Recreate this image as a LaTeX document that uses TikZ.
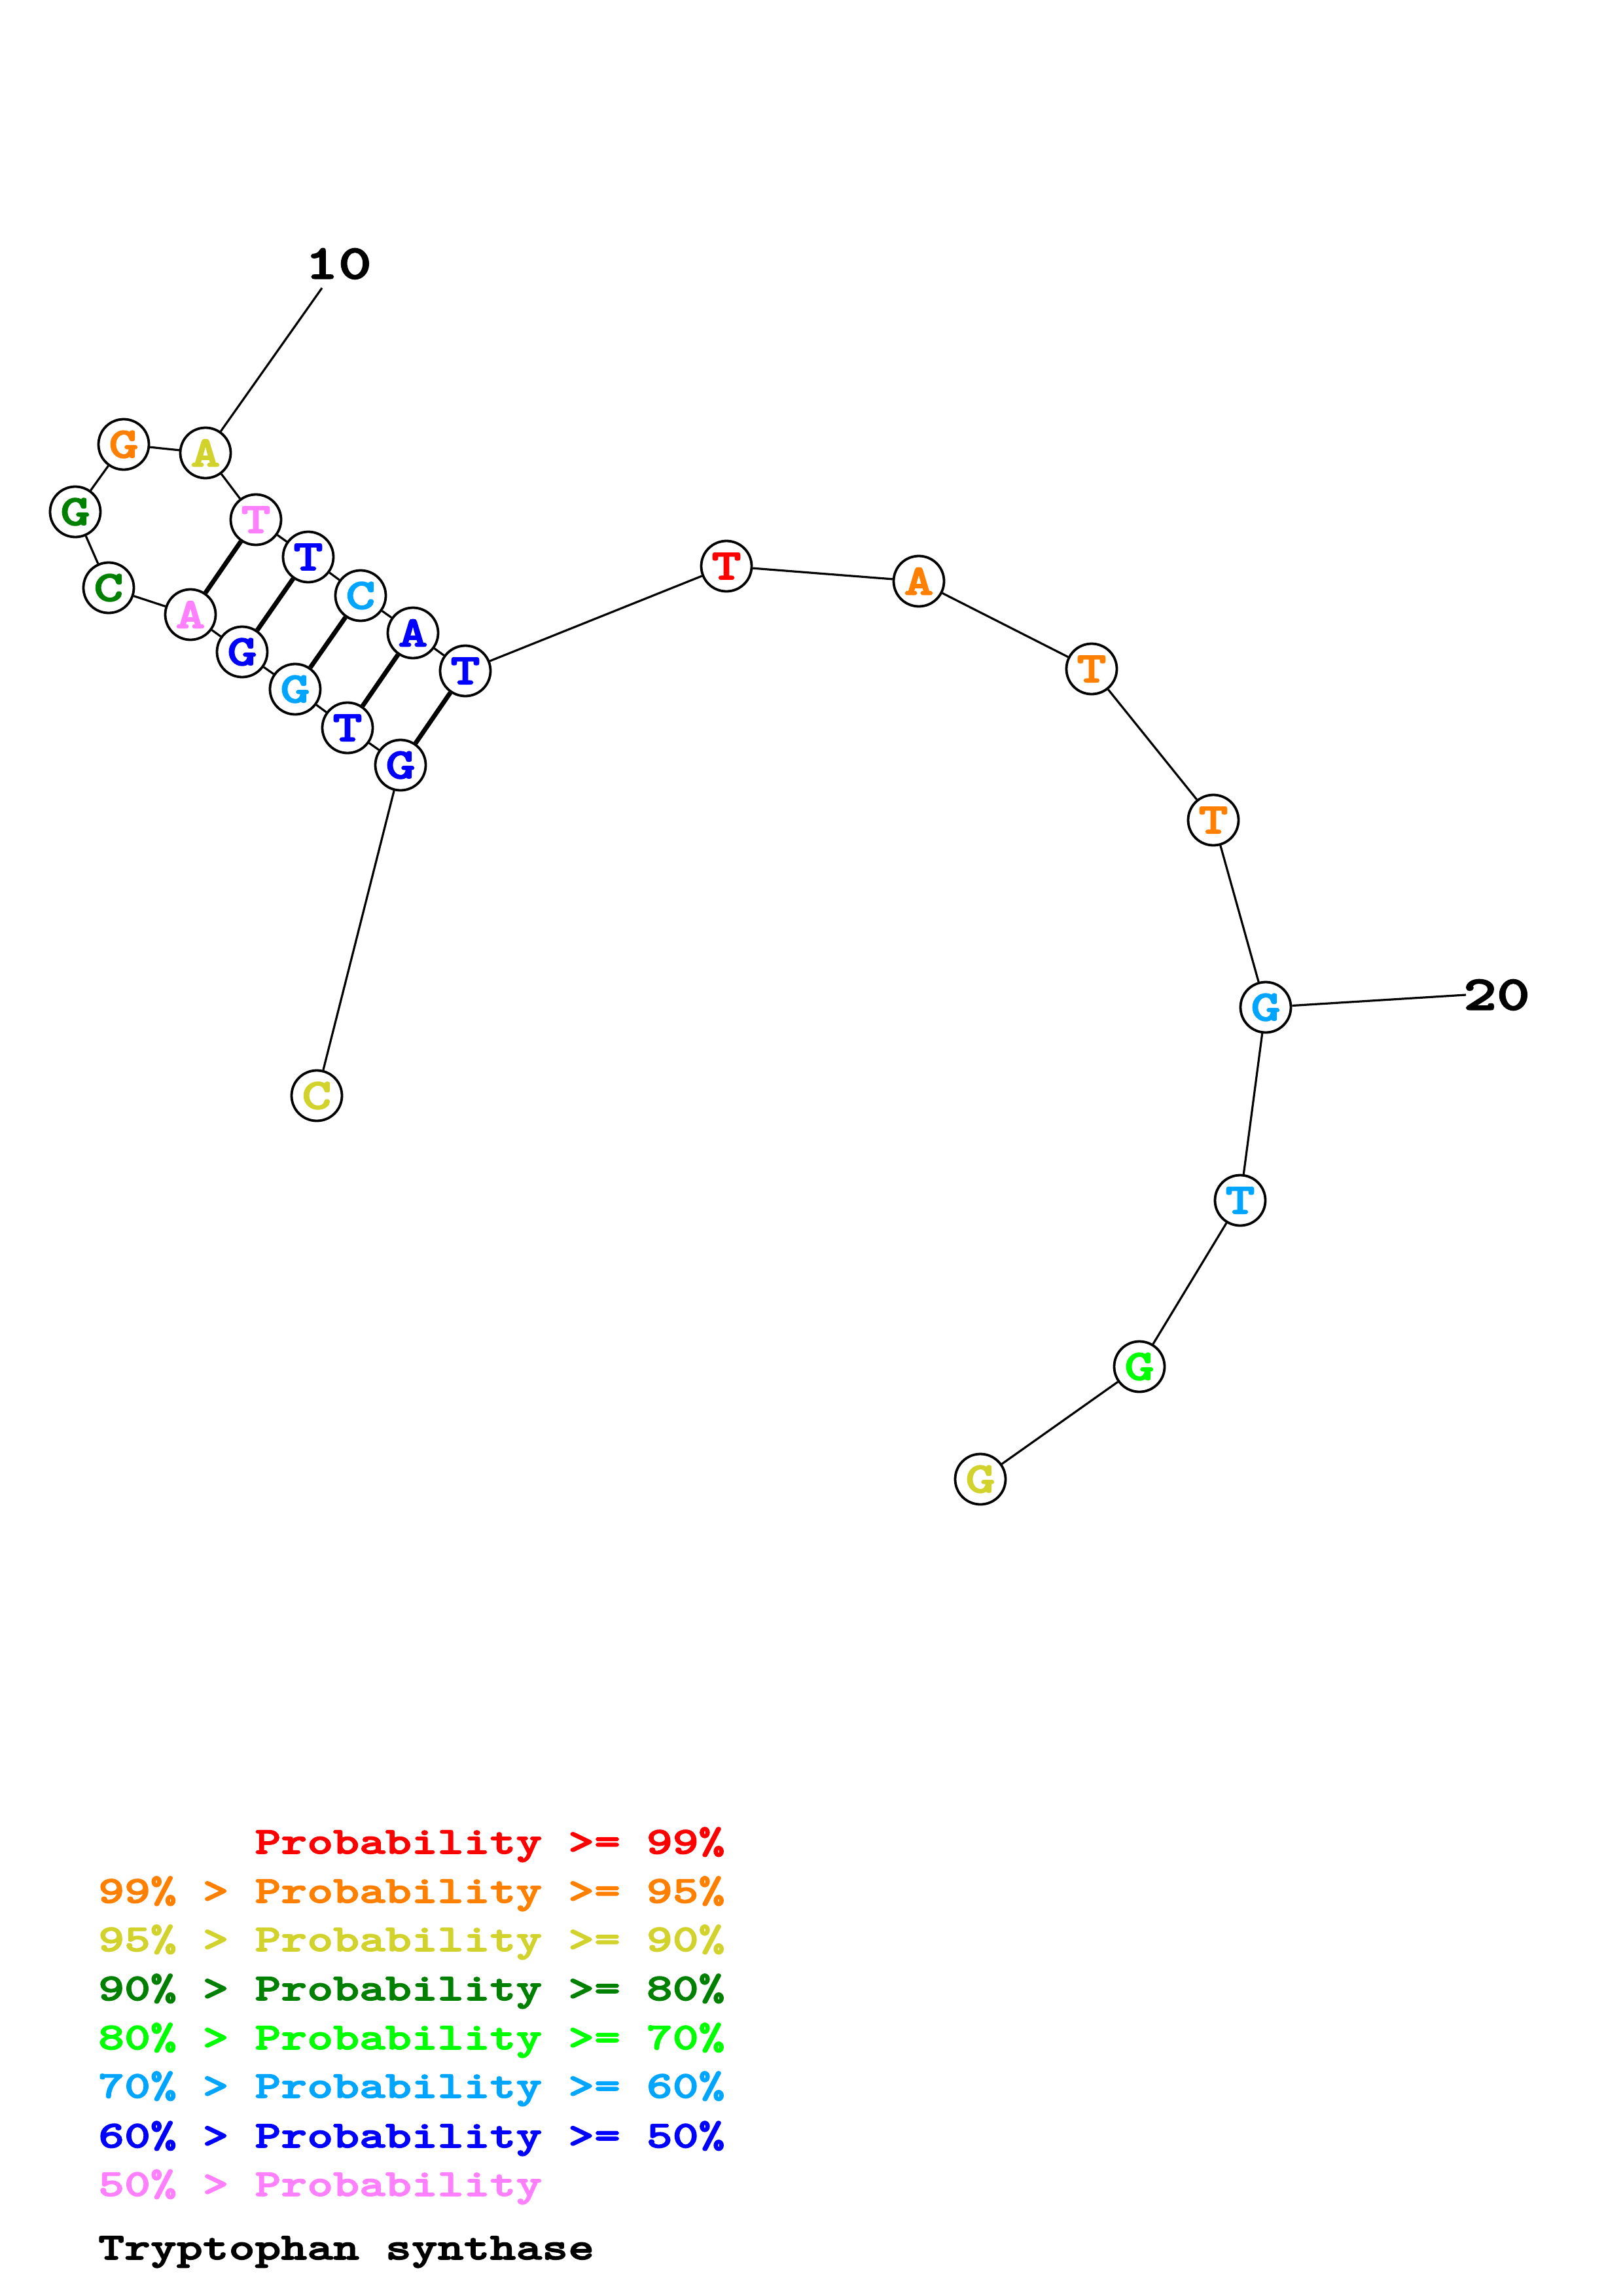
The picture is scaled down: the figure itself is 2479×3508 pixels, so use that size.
\documentclass[tikz,border=0pt]{standalone}
\usepackage{fontspec}
\newfontfamily\courfont{lmmonolt10-bold.otf}[FakeStretch=1.31, FakeBold=2.5]
\definecolor{cNine}{RGB}{255,0,0}
\definecolor{cFive}{RGB}{255,128,0}
\definecolor{cNinety}{RGB}{210,210,45}
\definecolor{cEighty}{RGB}{0,128,0}
\definecolor{cSeventy}{RGB}{0,255,0}
\definecolor{cSixty}{RGB}{0,165,255}
\definecolor{cFifty}{RGB}{0,0,255}
\definecolor{cLow}{RGB}{255,128,255}

\begin{document}
\begin{tikzpicture}[x=1pt, y=-1pt,
    nt/.style={circle, draw=black, line width=3.8pt, fill=white, minimum size=77pt, inner sep=0pt,
        font=\courfont\fontsize{66}{66}\selectfont},
    bb/.style={line width=3.2pt},
    bp/.style={line width=7pt},
    numlab/.style={inner sep=0pt, font=\courfont\fontsize{74}{74}\selectfont},
    legline/.style={anchor=base west, inner sep=0pt, font=\courfont\fontsize{58}{58}\selectfont}]
    \useasboundingbox[fill=white] (0,0) rectangle (2479,3508);

    \node[nt, text=cNinety] (n1) at (484,1674) {C};
    \node[nt, text=cFifty] (n2) at (612,1169) {G};
    \node[nt, text=cFifty] (n3) at (531,1112) {T};
    \node[nt, text=cSixty] (n4) at (451,1053) {G};
    \node[nt, text=cFifty] (n5) at (370,996) {G};
    \node[nt, text=cLow] (n6) at (291,939) {A};
    \node[nt, text=cEighty] (n7) at (166,898) {C};
    \node[nt, text=cEighty] (n8) at (115,782) {G};
    \node[nt, text=cFive] (n9) at (189,679) {G};
    \node[nt, text=cNinety] (n10) at (314,692) {A};
    \node[nt, text=cLow] (n11) at (391,794) {T};
    \node[nt, text=cFifty] (n12) at (471,851) {T};
    \node[nt, text=cSixty] (n13) at (551,910) {C};
    \node[nt, text=cFifty] (n14) at (631,967) {A};
    \node[nt, text=cFifty] (n15) at (711,1025) {T};
    \node[nt, text=cNine] (n16) at (1110,865) {T};
    \node[nt, text=cFive] (n17) at (1404,888) {A};
    \node[nt, text=cFive] (n18) at (1668,1022) {T};
    \node[nt, text=cFive] (n19) at (1854,1253) {T};
    \node[nt, text=cSixty] (n20) at (1934,1539) {G};
    \node[nt, text=cSixty] (n21) at (1895,1834) {T};
    \node[nt, text=cSeventy] (n22) at (1741,2088) {G};
    \node[nt, text=cNinety] (n23) at (1498,2260) {G};

    \draw[bb] (n1) -- (n2) -- (n3) -- (n4) -- (n5) -- (n6) -- (n7) -- (n8) -- (n9) -- (n10) -- (n11) -- (n12)
        -- (n13) -- (n14) -- (n15) -- (n16) -- (n17) -- (n18) -- (n19) -- (n20) -- (n21) -- (n22) -- (n23);

    \draw[bp] (n2) -- (n15);
    \draw[bp] (n3) -- (n14);
    \draw[bp] (n4) -- (n13);
    \draw[bp] (n5) -- (n12);
    \draw[bp] (n6) -- (n11);

    \node[numlab] (l10) at (517,403) {10};
    \coordinate (t10) at (492,440);
    \draw[bb] (n10) -- (t10);
    \node[numlab] (l20) at (2287,1520) {20};
    \coordinate (t20) at (2240,1520);
    \draw[bb] (n20) -- (t20);

    \node[legline, text=cNine] (g1) at (150,2832) {\hphantom{99\% > }Probability >= 99\%};
    \node[legline, text=cFive] (g2) at (150,2907) {99\% > Probability >= 95\%};
    \node[legline, text=cNinety] (g3) at (150,2981) {95\% > Probability >= 90\%};
    \node[legline, text=cEighty] (g4) at (150,3056) {90\% > Probability >= 80\%};
    \node[legline, text=cSeventy] (g5) at (150,3131) {80\% > Probability >= 70\%};
    \node[legline, text=cSixty] (g6) at (150,3205) {70\% > Probability >= 60\%};
    \node[legline, text=cFifty] (g7) at (150,3281) {60\% > Probability >= 50\%};
    \node[legline, text=cLow] (g8) at (150,3355) {50\% > Probability};
    \node[legline] (title) at (150,3452) {Tryptophan synthase};
\end{tikzpicture}
\end{document}
